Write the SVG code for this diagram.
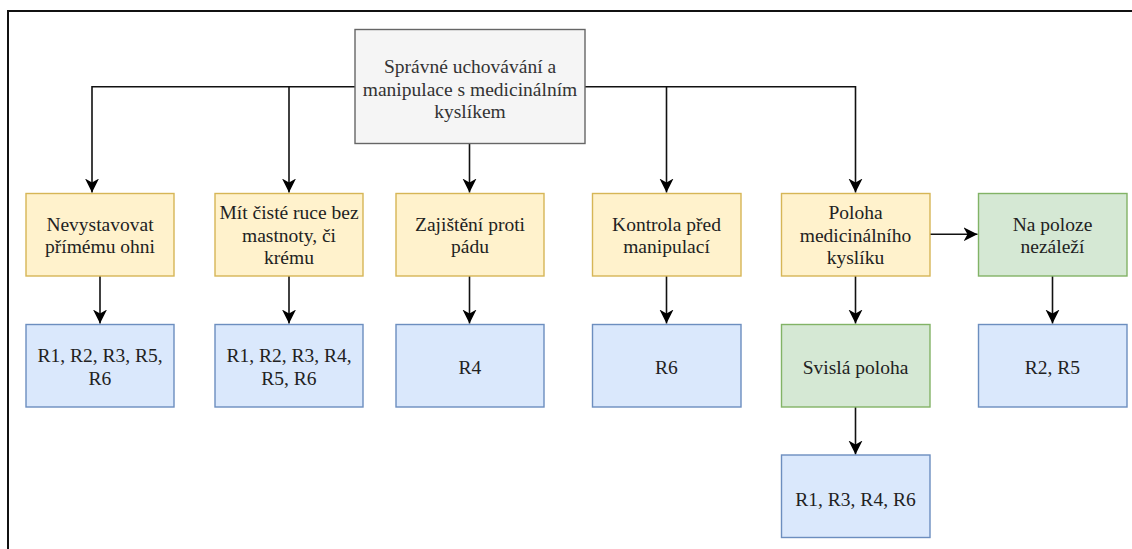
<svg xmlns="http://www.w3.org/2000/svg" width="1132" height="549" viewBox="0 0 1132 549" font-family="Liberation Serif, DejaVu Serif, serif">
<style>
text{font-size:19.5px;text-anchor:middle;fill:#222}
.y{fill:#fff2cc;stroke:#d6b656;stroke-width:1.4}
.b{fill:#dae8fc;stroke:#6c8ebf;stroke-width:1.4}
.g{fill:#d5e8d4;stroke:#82b366;stroke-width:1.4}
.gr{fill:#f5f5f5;stroke:#666666;stroke-width:1.4}
.e{fill:none;stroke:#111;stroke-width:1.6}
</style>
<defs>
<marker id="arr" markerUnits="userSpaceOnUse" markerWidth="15" markerHeight="15" refX="14" refY="7" orient="auto" viewBox="0 0 15 14">
<path d="M0,0 L14,7 L0,14 L4,7 z" fill="#000"/>
</marker>
</defs>
<rect width="1132" height="549" fill="#fff"/>
<g id="frame"><path d="M8,549 V11 H1132" fill="none" stroke="#111" stroke-width="2"/></g>
<g id="connectors">
<path class="e" d="M355,86.7 H92 V192.5" marker-end="url(#arr)"/>
<path class="e" d="M289,86.7 V192.5" marker-end="url(#arr)"/>
<path class="e" d="M469.5,143 V192.5" marker-end="url(#arr)"/>
<path class="e" d="M585,86.7 H855.5 V192.5" marker-end="url(#arr)"/>
<path class="e" d="M666.5,86.7 V192.5" marker-end="url(#arr)"/>
<path class="e" d="M100,276 V323.5" marker-end="url(#arr)"/>
<path class="e" d="M289,276 V323.5" marker-end="url(#arr)"/>
<path class="e" d="M469.5,276 V323.5" marker-end="url(#arr)"/>
<path class="e" d="M666.5,276 V323.5" marker-end="url(#arr)"/>
<path class="e" d="M855.5,276 V323.5" marker-end="url(#arr)"/>
<path class="e" d="M1052.5,276 V323.5" marker-end="url(#arr)"/>
<path class="e" d="M930,234.3 H977.5" marker-end="url(#arr)"/>
<path class="e" d="M855.5,407 V454.5" marker-end="url(#arr)"/>
</g>
<g id="root"><rect class="gr" x="355" y="29.5" width="230" height="114"/>
<text font-family="Liberation Serif" style="fill:#333"><tspan x="470" y="72.5">Správné uchovávání a</tspan><tspan x="470" y="95.5">manipulace s medicinálním</tspan><tspan x="470" y="118">kyslíkem</tspan></text></g>
<g id="n1"><rect class="y" x="26" y="193.5" width="148" height="82.5"/>
<text font-family="Liberation Serif"><tspan x="100" y="230.5">Nevystavovat</tspan><tspan x="100" y="252.5">přímému ohni</tspan></text></g>
<g id="n2"><rect class="y" x="215" y="193.5" width="148" height="82.5"/>
<text font-family="Liberation Serif"><tspan x="289" y="219">Mít čisté ruce bez</tspan><tspan x="289" y="241.5">mastnoty, či</tspan><tspan x="289" y="264">krému</tspan></text></g>
<g id="n3"><rect class="y" x="396" y="193.5" width="148" height="82.5"/>
<text font-family="Liberation Serif"><tspan x="470" y="230.5">Zajištění proti</tspan><tspan x="470" y="253">pádu</tspan></text></g>
<g id="n4"><rect class="y" x="592.5" y="193.5" width="148.5" height="82.5"/>
<text font-family="Liberation Serif"><tspan x="666.5" y="230.5">Kontrola před</tspan><tspan x="666.5" y="253">manipulací</tspan></text></g>
<g id="n5"><rect class="y" x="781.5" y="193.5" width="148.5" height="82.5"/>
<text font-family="Liberation Serif"><tspan x="855.5" y="218.5">Poloha</tspan><tspan x="855.5" y="241.5">medicinálního</tspan><tspan x="855.5" y="264">kyslíku</tspan></text></g>
<g id="n6"><rect class="g" x="978.5" y="193.5" width="148.5" height="82.5"/>
<text font-family="Liberation Serif"><tspan x="1052.5" y="230.5">Na poloze</tspan><tspan x="1052.5" y="252.5">nezáleží</tspan></text></g>
<g id="r1"><rect class="b" x="26" y="324.5" width="148" height="82.5"/>
<text font-family="Liberation Serif"><tspan x="100" y="362">R1, R2, R3, R5,</tspan><tspan x="100" y="385">R6</tspan></text></g>
<g id="r2"><rect class="b" x="215" y="324.5" width="148" height="82.5"/>
<text font-family="Liberation Serif"><tspan x="289" y="362">R1, R2, R3, R4,</tspan><tspan x="289" y="385">R5, R6</tspan></text></g>
<g id="r3"><rect class="b" x="396" y="324.5" width="148" height="82.5"/>
<text font-family="Liberation Serif" x="470" y="374">R4</text></g>
<g id="r4"><rect class="b" x="592.5" y="324.5" width="148.5" height="82.5"/>
<text font-family="Liberation Serif" x="666.5" y="374">R6</text></g>
<g id="n7"><rect class="g" x="781.5" y="324.5" width="148.5" height="82.5"/>
<text font-family="Liberation Serif" x="855.5" y="374">Svislá poloha</text></g>
<g id="r5"><rect class="b" x="978.5" y="324.5" width="148.5" height="82.5"/>
<text font-family="Liberation Serif" x="1052.5" y="374">R2, R5</text></g>
<g id="r6"><rect class="b" x="781.5" y="455" width="148.5" height="82.5"/>
<text font-family="Liberation Serif" x="855.5" y="505.5">R1, R3, R4, R6</text></g>
</svg>
